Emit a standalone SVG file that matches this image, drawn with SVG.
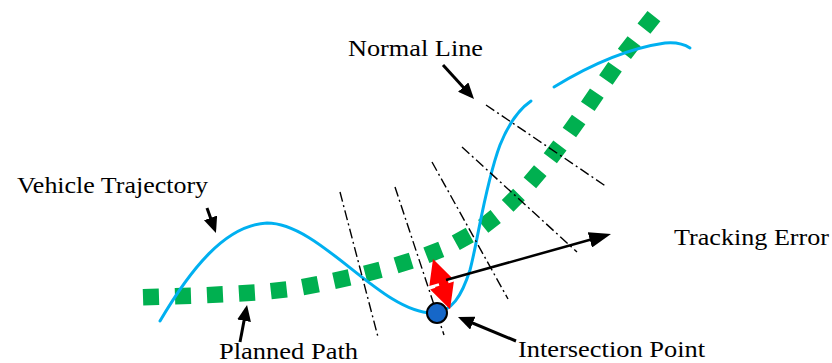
<svg xmlns="http://www.w3.org/2000/svg" width="832" height="363" viewBox="0 0 832 363">
<style>
.lbl{font-family:"Liberation Serif","Times New Roman",serif;font-size:24px;fill:#000}
.normal{fill:none;stroke:#000;stroke-width:1.4;stroke-dasharray:10 3.5 2 3.5}
.traj{fill:none;stroke:#00B0F0;stroke-width:3;stroke-linecap:round}
.plan{fill:none;stroke:#00B050;stroke-width:16.5;stroke-dasharray:16 16;stroke-dashoffset:24;stroke-linejoin:miter}
.ptr{fill:none;stroke:#000;stroke-width:3}
</style>
<defs>
<marker id="ah" viewBox="0 0 16 14" refX="12" refY="7" markerWidth="16" markerHeight="14" markerUnits="userSpaceOnUse" orient="auto">
<path d="M0,0 L16,7 L0,14 z" fill="#000"/>
</marker>
<marker id="ahL" viewBox="0 0 22 16" refX="17" refY="8" markerWidth="22" markerHeight="16" markerUnits="userSpaceOnUse" orient="auto">
<path d="M0,0 L22,8 L0,16 z" fill="#000"/>
</marker>
</defs>

<g id="planned-path">
<path class="plan" d="M135,297.5 L167.5,296.5 L199,295.5 L230.5,294 L263,292 L295,288.5 L326.5,282.5 L358,275.5 L389,267.5 L419.5,258 L450,246 L478,230.5 L502.5,211 L525,188.5 L546,164 L565.5,138 L584,112 L602,85.5 L620.5,59 L640,33.5 L660,8.5"/>
</g>

<g id="vehicle-trajectory">
<path class="traj" d="M160,321 C190,270 225,225 267,223 C320,223 380,312 432,313 C452,313 462,295 470,270 C478,240 485,185 500,145 C508,125 518,110 531,101"/>
<path class="traj" d="M554,87 C590,65 630,48 665,43 C676,42 684,44 690,48"/>
</g>

<g id="normal-lines">
<line class="normal" x1="340" y1="192" x2="378" y2="337"/>
<line class="normal" x1="395" y1="187" x2="444" y2="335"/>
<line class="normal" x1="432" y1="162" x2="508" y2="299"/>
<line class="normal" x1="462" y1="147" x2="577" y2="252"/>
<line class="normal" x1="486" y1="105" x2="607" y2="187"/>
</g>

<g id="connectors">
<line class="ptr" x1="443" y1="65" x2="471.3" y2="96" marker-end="url(#ah)"/>
<line class="ptr" x1="207" y1="208" x2="214.6" y2="229.2" marker-end="url(#ah)"/>
<line class="ptr" x1="240" y1="342" x2="246.3" y2="308.9" marker-end="url(#ah)"/>
<line class="ptr" x1="516" y1="341" x2="461.7" y2="318.5" marker-end="url(#ah)"/>
</g>

<g id="tracking-error">
<polygon fill="#FF0000" transform="translate(433,259) rotate(-18.8)" points="0,0 12.5,25 7,25 7,28 12.5,28 0,53 -12.5,28 -7,28 -7,25 -12.5,25"/>
<line x1="427" y1="288" x2="439" y2="284.5" stroke="#fff" stroke-width="2.5"/>
<line x1="446" y1="280" x2="606.2" y2="235.3" stroke="#000" stroke-width="2.5" marker-end="url(#ahL)"/>
</g>

<g id="intersection-point">
<circle cx="437" cy="313" r="10" fill="#1667C8" stroke="#000" stroke-width="2"/>
</g>

<g id="labels">
<text class="lbl" x="348" y="56" textLength="135" lengthAdjust="spacingAndGlyphs">Normal Line</text>
<text class="lbl" x="17" y="193" textLength="191" lengthAdjust="spacingAndGlyphs">Vehicle Trajectory</text>
<text class="lbl" x="674" y="245" textLength="155" lengthAdjust="spacingAndGlyphs">Tracking Error</text>
<text class="lbl" x="219" y="359" textLength="139" lengthAdjust="spacingAndGlyphs">Planned Path</text>
<text class="lbl" x="518" y="357" textLength="187" lengthAdjust="spacingAndGlyphs">Intersection Point</text>
</g>
</svg>
